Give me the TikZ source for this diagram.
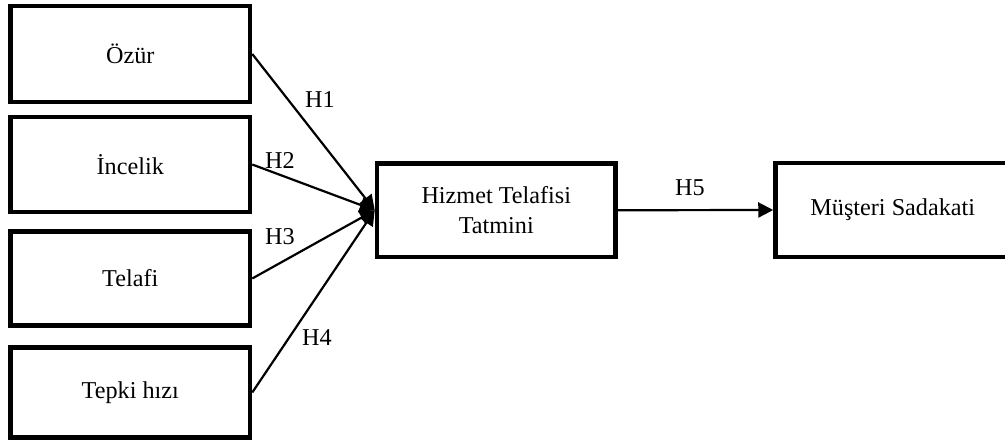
\documentclass[tikz,border=0pt]{standalone}
\usepackage{fontspec}
\setmainfont{Liberation Serif}
\usetikzlibrary{arrows.meta}
\begin{document}
\begin{tikzpicture}[x=1pt,y=-1pt,
  font=\fontsize{24.2}{30}\selectfont,
  box/.style={draw, line width=4.5pt, rectangle, align=center, inner sep=0pt},
  conn/.style={line width=2.2pt, -{Triangle[length=15pt,width=15pt]}},
  lbl/.style={inner sep=0pt}]
\useasboundingbox (0,0) rectangle (1005,446);

% left-hand constructs
\node[box, minimum width=239.5pt, minimum height=96pt] (ozur) at (130.25,54) {Özür};
\node[box, minimum width=239.5pt, minimum height=95pt] (incelik) at (130.25,164.5) {İncelik};
\node[box, minimum width=239.5pt, minimum height=94pt] (telafi) at (130.25,278.5) {Telafi};
\node[box, minimum width=239.5pt, minimum height=90pt] (tepki) at (130.25,392.5) {Tepki hızı};

% mediator and outcome
\node[box, minimum width=238.5pt, minimum height=93.5pt] (tatmin) at (496.25,210.25) {Hizmet Telafisi\\Tatmini};
\node[box, minimum width=234.5pt, minimum height=94pt] (sadakat) at (892.75,210) {Müşteri Sadakati};

\coordinate (hub) at (tatmin.west);

% hypothesised paths
\draw[conn] (ozur.east) -- (hub);
\draw[conn] (incelik.east) -- (hub);
\draw[conn] (telafi.east) -- (hub);
\draw[conn] (tepki.east) -- (hub);
\draw[conn] (tatmin.east) -- (sadakat.west);

% path labels
\node[lbl] (h1) at (320,100) {H1};
\node[lbl] (h2) at (280,160) {H2};
\node[lbl] (h3) at (280,237) {H3};
\node[lbl] (h4) at (317,338) {H4};
\node[lbl] (h5) at (690,188) {H5};
\end{tikzpicture}
\end{document}
